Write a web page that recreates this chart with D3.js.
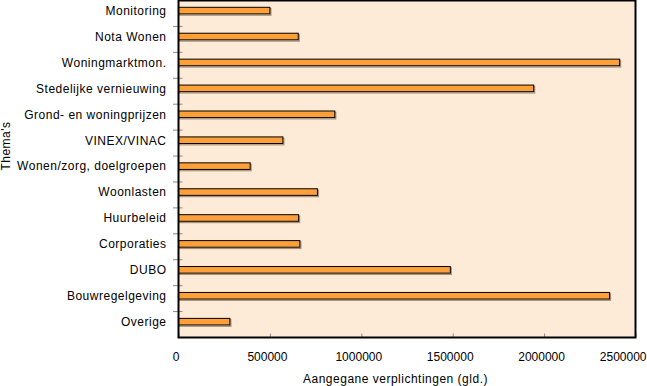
<!DOCTYPE html>
<html>
<head>
<meta charset="utf-8">
<script src="https://cdn.jsdelivr.net/npm/d3@7"></script>
<style>
  body { margin: 0; background: #fff; }
  text { font-family: "Liberation Sans", Arial, sans-serif; fill: #000; }
</style>
</head>
<body>
<div id="chart"></div>
<script>
var svgWidth = 647;
var svgHeight = 386;

var margin = { top: 0.5, right: 11.5, bottom: 49, left: 178.5 };
var width = svgWidth - margin.left - margin.right;
var height = 337.5 - margin.top;

// chart data
var themes = ["Monitoring", "Nota Wonen", "Woningmarktmon.", "Stedelijke vernieuwing",
  "Grond- en woningprijzen", "VINEX/VINAC", "Wonen/zorg, doelgroepen", "Woonlasten",
  "Huurbeleid", "Corporaties", "DUBO", "Bouwregelgeving", "Overige"];
var amounts = [500000, 655000, 2413000, 1943000, 855000, 571000, 392000, 760000,
  657000, 664000, 1487000, 2358000, 281000];
var xTicks = [0, 500000, 1000000, 1500000, 2000000, 2500000];

var svg = d3.select("#chart")
  .append("svg")
  .attr("width", svgWidth)
  .attr("height", svgHeight);

var chartGroup = svg.append("g")
  .attr("transform", `translate(${margin.left}, ${margin.top})`);

var xScale = d3.scaleLinear().domain([0, 2500000]).range([0, width]);
var yScale = d3.scaleBand().domain(themes).range([0, height]);

// plot background
chartGroup.append("rect")
  .attr("width", width)
  .attr("height", height)
  .attr("fill", "#fdebd7");

// x ticks (inward) and labels
var xAxis = chartGroup.append("g")
  .attr("transform", `translate(0, ${height})`)
  .call(d3.axisBottom(xScale).tickValues(xTicks).tickFormat(d3.format("d")).tickSize(0).tickPadding(15));
xAxis.select(".domain").remove();
xAxis.selectAll(".tick").append("line")
  .attr("y1", 0).attr("y2", -4)
  .attr("stroke", "#8a8a8a");
xAxis.selectAll("text")
  .attr("dx", -3)
  .style("font-size", "12px");
// last label is pushed in so it fits the picture
xAxis.selectAll("text").filter(d => d === 2500000)
  .attr("text-anchor", "end")
  .attr("dx", 10.5);

// y ticks at band edges
var yEdges = themes.map(d => yScale(d)).slice(1);
chartGroup.selectAll(".ytick")
  .data(yEdges)
  .enter()
  .append("line")
  .attr("class", "ytick")
  .attr("x1", -5.5).attr("x2", 4)
  .attr("y1", d => d).attr("y2", d => d)
  .attr("stroke", "#8a8a8a");

// bars with shadow
var barTop = 6.8;
var barH = 6.6;

chartGroup.selectAll(".shadow")
  .data(themes)
  .enter()
  .append("rect")
  .attr("class", "shadow")
  .attr("x", 1)
  .attr("y", d => yScale(d) + barTop + 1.3)
  .attr("width", (d, i) => xScale(amounts[i]))
  .attr("height", barH)
  .attr("fill", "none")
  .attr("stroke", "#8c7a68")
  .attr("stroke-width", 1.2)
  .attr("opacity", 0.8);

chartGroup.selectAll(".bar")
  .data(themes)
  .enter()
  .append("rect")
  .attr("class", "bar")
  .attr("x", 0)
  .attr("y", d => yScale(d) + barTop)
  .attr("width", (d, i) => xScale(amounts[i]))
  .attr("height", barH)
  .attr("fill", "#ff9f37")
  .attr("stroke", "#000")
  .attr("stroke-width", 1);

// category labels
chartGroup.selectAll(".cat")
  .data(themes)
  .enter()
  .append("text")
  .attr("class", "cat")
  .attr("x", -12)
  .attr("y", d => yScale(d) + barTop + barH / 2)
  .attr("dy", "0.36em")
  .attr("text-anchor", "end")
  .style("font-size", "12px")
  .style("letter-spacing", "0.5px")
  .text(d => d);

// plot frame
chartGroup.append("rect")
  .attr("width", width)
  .attr("height", height)
  .attr("fill", "none")
  .attr("stroke", "#000")
  .attr("stroke-width", 2);

// axis titles
svg.append("text")
  .attr("x", 395.5)
  .attr("y", 383)
  .attr("text-anchor", "middle")
  .style("font-size", "12px")
  .style("letter-spacing", "0.5px")
  .text("Aangegane verplichtingen (gld.)");

svg.append("text")
  .attr("transform", "translate(10, 146) rotate(-90)")
  .attr("text-anchor", "middle")
  .style("font-size", "12px")
  .style("letter-spacing", "0.5px")
  .text("Thema's");
</script>
</body>
</html>
